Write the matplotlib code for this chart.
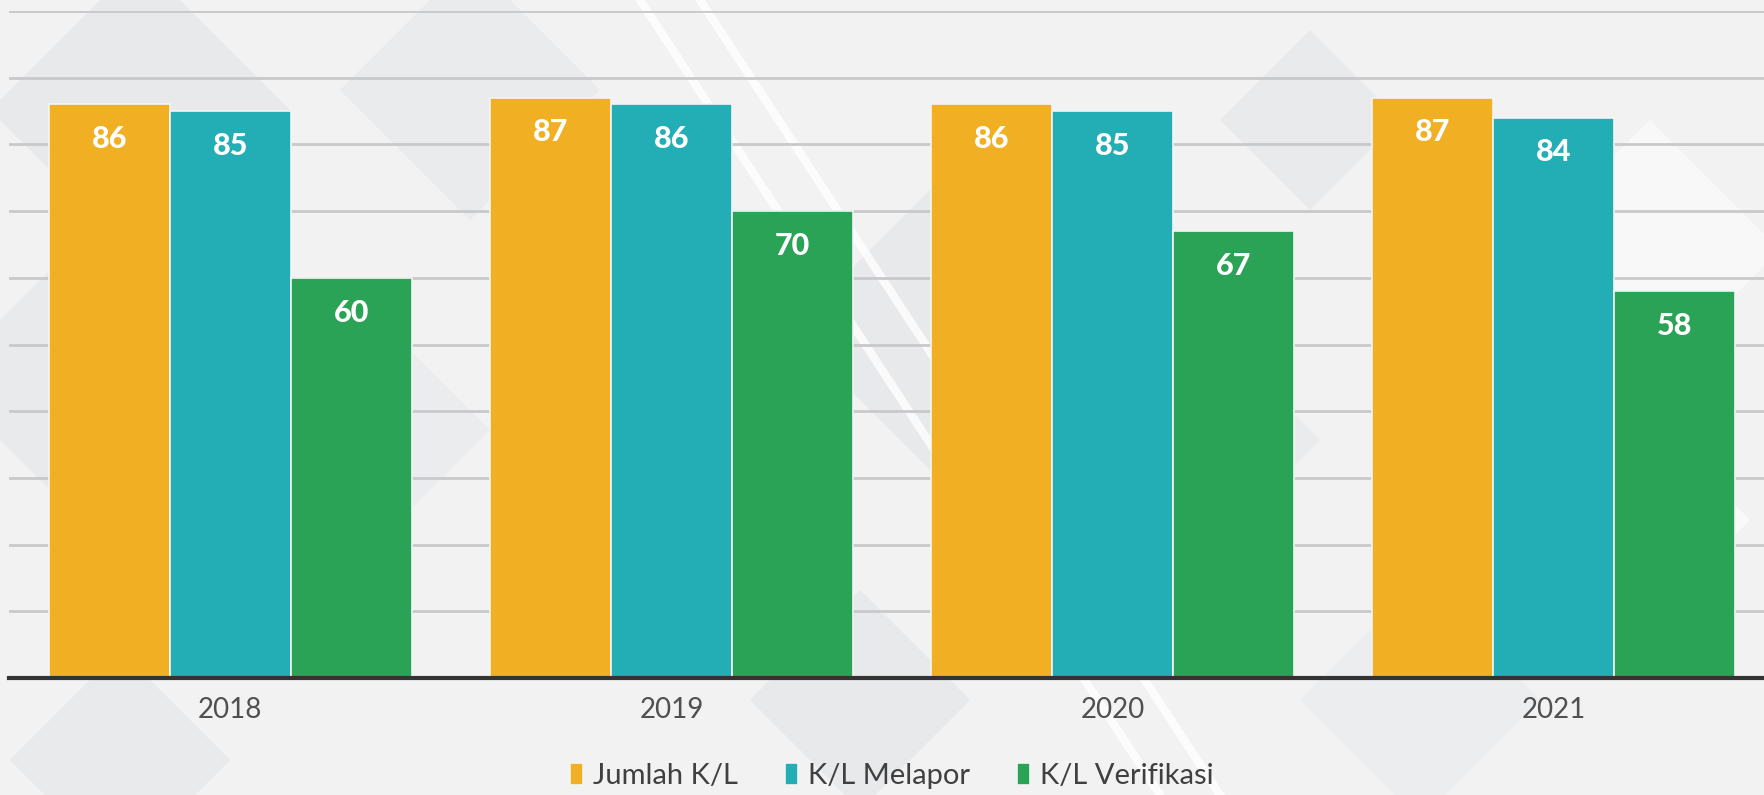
import numpy as np
import matplotlib.pyplot as plt
from matplotlib.patches import Polygon

# data
years = ['2018', '2019', '2020', '2021']
jumlah = [86, 87, 86, 87]
melapor = [85, 86, 85, 84]
verifikasi = [60, 70, 67, 58]

series = [
    ('Jumlah K/L', jumlah, '#F1AF23'),
    ('K/L Melapor', melapor, '#23ADB4'),
    ('K/L Verifikasi', verifikasi, '#2BA356'),
]

plt.rcParams['font.family'] = ['Lato', 'DejaVu Sans']

fig = plt.figure(figsize=(17.64, 7.95), dpi=100)
fig.patch.set_facecolor('#F2F2F3')

# soft diamond shapes in the background
bg = fig.add_axes([0, 0, 1, 1], zorder=-10)
bg.set_xlim(0, 1764)
bg.set_ylim(795, 0)
bg.axis('off')
diamonds = [(140, 110, 150, '#E8E9EA'), (470, 90, 130, '#EAEBEC'), (60, 380, 120, '#E9EAEB'),
            (380, 430, 110, '#EBECED'), (940, 330, 150, '#E8E9EA'), (1310, 120, 90, '#E9EAEB'),
            (1200, 440, 120, '#EAEBEC'), (860, 700, 110, '#E8E9EA'), (1420, 700, 120, '#ECEDEE'),
            (120, 760, 110, '#E9EAEB'), (1650, 250, 130, '#F8F8F8'), (1600, 520, 150, '#F9F9F9')]
for cx, cy, r, c in diamonds:
    bg.add_patch(Polygon([(cx, cy - r), (cx + r, cy), (cx, cy + r), (cx - r, cy)],
                         closed=True, facecolor=c, edgecolor='none'))
for x0 in (640, 700):
    bg.plot([x0, x0 + 520], [0, 795], color='white', lw=6, alpha=0.8)

ax = fig.add_axes([9 / 1764, 1 - 678 / 795, 1755 / 1764, 667 / 795])
ax.set_facecolor('none')

x = np.arange(len(years))
w = 0.274
for i, (name, vals, col) in enumerate(series):
    bars = ax.bar(x + (i - 1) * w, vals, width=w, color=col, edgecolor='#F4F4F4',
                  linewidth=1.2, label=name, zorder=3)
    for b, v in zip(bars, vals):
        ax.annotate(str(v), (b.get_x() + b.get_width() / 2, v), xytext=(0, -25),
                    textcoords='offset points', ha='center', va='center',
                    color='white', fontsize=22, fontweight='black', zorder=4)

ax.set_xlim(-0.502, 3.477)
ax.set_ylim(0, 100)
ax.set_yticks(np.arange(0, 101, 10))
ax.yaxis.grid(True, color='#C9C9CB', linewidth=2)
ax.set_axisbelow(True)
ax.tick_params(axis='y', left=False, labelleft=False)
ax.tick_params(axis='x', length=0, pad=14, labelsize=20, labelcolor='#505050')
ax.set_xticks(x)
ax.set_xticklabels(years)
for s in ('top', 'right', 'left'):
    ax.spines[s].set_visible(False)
ax.spines['bottom'].set_color('#333333')
ax.spines['bottom'].set_linewidth(3)
ax.spines['bottom'].set_zorder(5)

leg = fig.legend(loc='center', bbox_to_anchor=(892 / 1764, 1 - 776 / 795), ncol=3,
                 frameon=False, fontsize=21, handlelength=0.45, handleheight=0.75,
                 handletextpad=0.35, columnspacing=1.6)
for t in leg.get_texts():
    t.set_color('#404040')

fig.savefig('out.png', dpi=100)
